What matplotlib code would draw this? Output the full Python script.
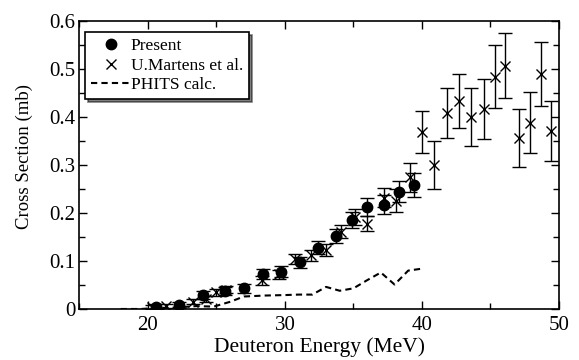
import numpy as np
import matplotlib
matplotlib.use("Agg")
import matplotlib.pyplot as plt
from matplotlib.ticker import MultipleLocator
from matplotlib.lines import Line2D

plt.rcParams['font.family'] = ['Liberation Serif', 'DejaVu Serif']

# Present data
present_e = [20.6, 22.3, 24.0, 25.6, 27.0, 28.4, 29.7, 31.1, 32.4, 33.7, 34.9, 36.0, 37.2, 38.3, 39.4]
present_xs = [0.005, 0.008, 0.029, 0.038, 0.043, 0.073, 0.078, 0.097, 0.128, 0.152, 0.185, 0.212, 0.217, 0.244, 0.258]
present_err = [0.006, 0.006, 0.008, 0.008, 0.009, 0.011, 0.011, 0.012, 0.013, 0.015, 0.017, 0.019, 0.020, 0.022, 0.025]

# U.Martens et al.
martens_e = [20.3, 21.3, 23.3, 24.2, 25.0, 25.7, 28.3, 29.6, 30.7, 31.9, 33.0, 34.1, 35.1, 36.0,
             37.2, 38.1, 39.1, 40.0, 40.9, 41.8, 42.7, 43.6, 44.5, 45.3, 46.1, 47.1, 47.9, 48.7, 49.4]
martens_xs = [0.005, 0.006, 0.015, 0.021, 0.035, 0.040, 0.060, 0.072, 0.104, 0.112, 0.123, 0.161,
              0.192, 0.178, 0.232, 0.226, 0.274, 0.369, 0.300, 0.408, 0.434, 0.400, 0.417, 0.484,
              0.507, 0.356, 0.388, 0.490, 0.371]
martens_err = [0.004, 0.004, 0.005, 0.006, 0.007, 0.007, 0.009, 0.009, 0.011, 0.011, 0.012, 0.014,
               0.016, 0.016, 0.020, 0.023, 0.030, 0.044, 0.050, 0.052, 0.056, 0.060, 0.062, 0.065,
               0.068, 0.060, 0.064, 0.067, 0.063]

# PHITS calculation
phits_e = [18.0, 19.5, 20.5, 22.0, 23.5, 24.8, 26.0, 27.0, 28.5, 30.0, 31.0, 32.0, 33.0,
           34.0, 35.0, 36.0, 37.0, 38.0, 39.0, 40.0]
phits_xs = [0.0, 0.0, 0.002, 0.003, 0.006, 0.005, 0.015, 0.026, 0.028, 0.029, 0.030, 0.030,
            0.046, 0.038, 0.043, 0.060, 0.076, 0.051, 0.080, 0.084]

fig = plt.figure(figsize=(5.79, 3.6), dpi=100)
ax = fig.add_axes([0.1373, 0.1417, 0.828, 0.800])

ax.errorbar(present_e, present_xs, yerr=present_err, fmt='o', color='black',
            markersize=7.5, capsize=5, elinewidth=1, capthick=1)
ax.errorbar(martens_e, martens_xs, yerr=martens_err, fmt='x', color='black',
            markersize=7, markeredgewidth=1, capsize=5, elinewidth=1, capthick=1)
ax.plot(phits_e, phits_xs, color='black', linewidth=1.5, dashes=(3, 2))

ax.set_xlim(15, 50)
ax.set_ylim(0, 0.6)
ax.xaxis.set_major_locator(MultipleLocator(10))
ax.xaxis.set_minor_locator(MultipleLocator(5))
ax.yaxis.set_major_locator(MultipleLocator(0.1))
ax.yaxis.set_minor_locator(MultipleLocator(0.05))
ax.set_yticks(np.arange(0, 0.61, 0.1))
ax.set_yticklabels(['0', '0.1', '0.2', '0.3', '0.4', '0.5', '0.6'])
ax.set_xticks([20, 30, 40, 50])
ax.set_xticklabels(['20', '30', '40', '50'])
ax.tick_params(which='both', direction='in', top=True, right=True, labelsize=15)
ax.tick_params(which='major', length=6, width=1)
ax.tick_params(which='minor', length=4, width=1)
ax.tick_params(axis='x', pad=5)
ax.tick_params(axis='y', pad=3)
for s in ax.spines.values():
    s.set_linewidth(1.2)

ax.set_xlabel('Deuteron Energy (MeV)', fontsize=15.5, labelpad=2)
ax.set_ylabel('Cross Section (mb)', fontsize=13.5)
ax.yaxis.set_label_coords(-0.097, 0.53)

handles = [
    Line2D([], [], marker='o', linestyle='none', color='black', markersize=7.5),
    Line2D([], [], marker='x', linestyle='none', color='black', markersize=7, markeredgewidth=1),
    Line2D([], [], color='black', linewidth=1.5, dashes=(3, 2)),
]
labels = ['Present', 'U.Martens et al.', 'PHITS calc.']
leg = ax.legend(handles, labels, loc='upper left', bbox_to_anchor=(0.011, 0.962),
                fontsize=12.5, frameon=True, fancybox=False,
                shadow={'color': 'black'}, handlelength=2.3, handletextpad=0.0,
                borderpad=0.35, labelspacing=0.2, borderaxespad=0.0)
leg.get_frame().set_edgecolor('black')
leg.get_frame().set_linewidth(1.2)

fig.savefig('out.png', dpi=100)
